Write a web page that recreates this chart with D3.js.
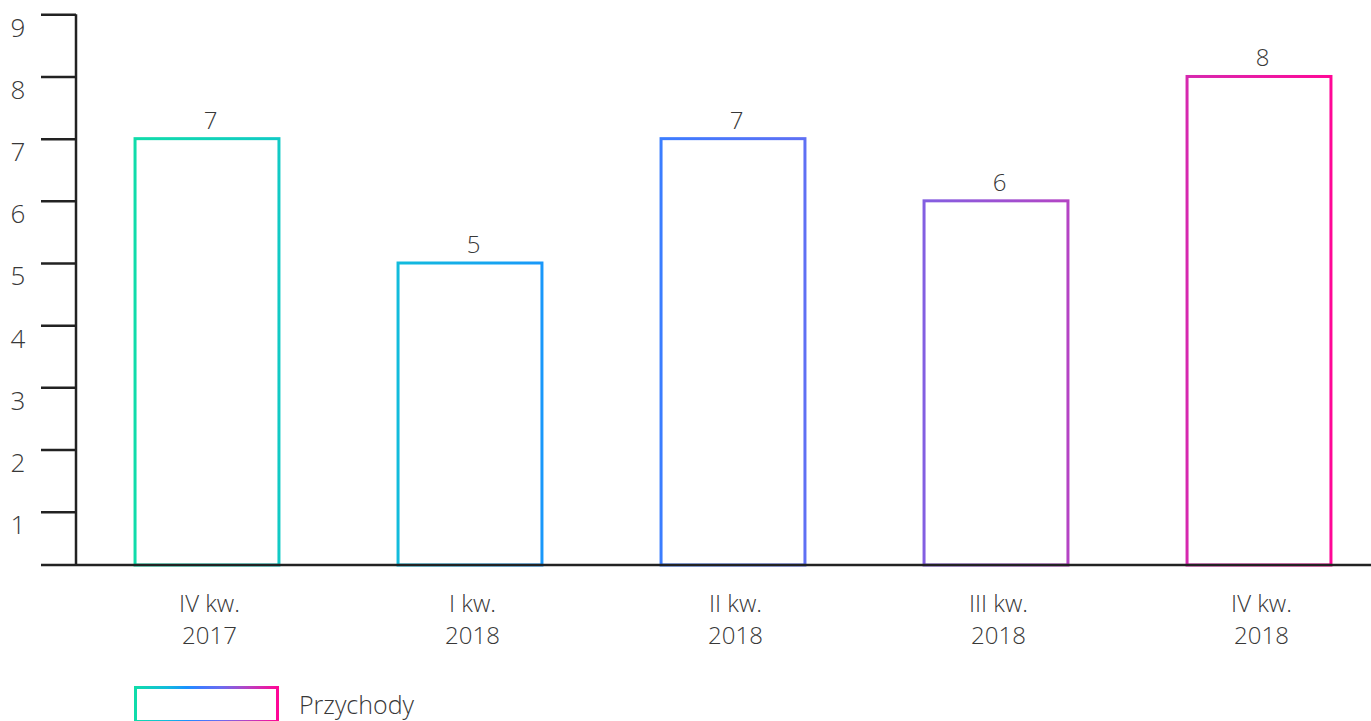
<!DOCTYPE html>
<html>
<head>
<meta charset="utf-8">
<script src="https://cdnjs.cloudflare.com/ajax/libs/d3/7.8.5/d3.min.js"></script>
<style>
	body { margin: 0; background: #fff; }
	text { font-family: "Open Sans", "Segoe UI", sans-serif; font-weight: 300; fill: #383838; }
</style>
</head>
<body>
<svg></svg>
<script>
// chart data
var quarters = ["IV kw.", "I kw.", "II kw.", "III kw.", "IV kw."];
var years = ["2017", "2018", "2018", "2018", "2018"];
var revenue = [7, 5, 7, 6, 8];
var yTicks = [1, 2, 3, 4, 5, 6, 7, 8, 9];
var seriesName = "Przychody";

var draw = function() {

	var width = 1371,
		height = 721;

	var svg = d3.select("svg")
		.attr("width", width)
		.attr("height", height);

	// gradient running across the whole plot
	var defs = svg.append("defs");
	var grad = defs.append("linearGradient")
		.attr("id", "barGrad")
		.attr("gradientUnits", "userSpaceOnUse")
		.attr("x1", 134).attr("x2", 1331)
		.attr("y1", 0).attr("y2", 0);
	var stops = [
		[0, "#10dcaa"], [0.22, "#12bcdc"], [0.36, "#1a92ff"],
		[0.45, "#3f7bff"], [0.6, "#6a6cf0"], [0.78, "#b444c4"], [1, "#ff0796"]
	];
	grad.selectAll("stop").data(stops).enter().append("stop")
		.attr("offset", function(d) { return d[0]; })
		.attr("stop-color", function(d) { return d[1]; });

	var legGrad = defs.append("linearGradient")
		.attr("id", "legGrad")
		.attr("x1", 0).attr("x2", 1).attr("y1", 0).attr("y2", 0);
	legGrad.selectAll("stop").data(stops).enter().append("stop")
		.attr("offset", function(d) { return d[0]; })
		.attr("stop-color", function(d) { return d[1]; });

	// scales
	var scaleX = d3.scaleBand()
		.domain(d3.range(revenue.length))
		.range([75, 1390])
		.paddingInner(0.449)
		.paddingOuter(0.2245);

	var scaleY = d3.scaleLinear()
		.domain([0.143, 9])
		.range([565, 14.3]);

	var axisX0 = 76;

	// Y axis
	var yAxis = svg.append("g")
		.attr("transform", "translate(" + axisX0 + ",0)")
		.call(d3.axisLeft(scaleY).tickValues(yTicks).tickSize(35).tickPadding(10).tickFormat(d3.format("d")));
	yAxis.select(".domain").remove();
	yAxis.selectAll(".tick line").attr("stroke", "#222").attr("stroke-width", 2.5);
	yAxis.selectAll(".tick text")
		.attr("x", -58)
		.attr("dy", "0.84em")
		.attr("text-anchor", "middle")
		.style("font-size", "26px")
		.style("font-family", "'Open Sans', sans-serif")
		.style("font-weight", 300)
		.attr("fill", "#383838");

	// bottom tick (no label)
	svg.append("line")
		.attr("x1", axisX0 - 35).attr("x2", axisX0)
		.attr("y1", scaleY.range()[0]).attr("y2", scaleY.range()[0])
		.attr("stroke", "#222").attr("stroke-width", 2.5);

	// vertical axis line
	svg.append("line")
		.attr("x1", axisX0).attr("x2", axisX0)
		.attr("y1", scaleY(9)).attr("y2", scaleY.range()[0])
		.attr("stroke", "#222").attr("stroke-width", 2.5);

	// bars
	svg.selectAll("rect.bar")
		.data(revenue)
		.enter()
		.append("rect")
		.attr("class", "bar")
		.attr("x", function(d, i) { return scaleX(i) + 1; })
		.attr("y", function(d) { return scaleY(d); })
		.attr("width", scaleX.bandwidth() - 1)
		.attr("height", function(d) { return scaleY.range()[0] - scaleY(d); })
		.attr("fill", "none")
		.attr("stroke", "url(#barGrad)")
		.attr("stroke-width", 3);

	// x axis baseline
	svg.append("line")
		.attr("x1", axisX0).attr("x2", width)
		.attr("y1", scaleY.range()[0]).attr("y2", scaleY.range()[0])
		.attr("stroke", "#222").attr("stroke-width", 2.5);

	// value labels
	svg.selectAll("text.val")
		.data(revenue)
		.enter()
		.append("text")
		.attr("class", "val")
		.attr("x", function(d, i) { return scaleX(i) + scaleX.bandwidth() / 2 + 4; })
		.attr("y", function(d) { return scaleY(d) - 10; })
		.attr("text-anchor", "middle")
		.style("font-size", "24px")
		.text(function(d) { return d; });

	// category labels
	var cat = svg.selectAll("text.cat")
		.data(quarters)
		.enter()
		.append("text")
		.attr("class", "cat")
		.attr("text-anchor", "middle")
		.style("font-size", "24px");
	cat.append("tspan")
		.attr("x", function(d, i) { return scaleX(i) + scaleX.bandwidth() / 2 + 3; })
		.attr("y", 612)
		.text(function(d) { return d; });
	cat.append("tspan")
		.attr("x", function(d, i) { return scaleX(i) + scaleX.bandwidth() / 2 + 3; })
		.attr("y", 644)
		.text(function(d, i) { return years[i]; });

	// legend
	svg.append("rect")
		.attr("x", 135.5).attr("y", 687.5)
		.attr("width", 142).attr("height", 34)
		.attr("fill", "none")
		.attr("stroke", "url(#legGrad)")
		.attr("stroke-width", 3);
	svg.append("text")
		.attr("x", 299).attr("y", 714)
		.style("font-size", "25px")
		.text(seriesName);
};

draw();
</script>
</body>
</html>
